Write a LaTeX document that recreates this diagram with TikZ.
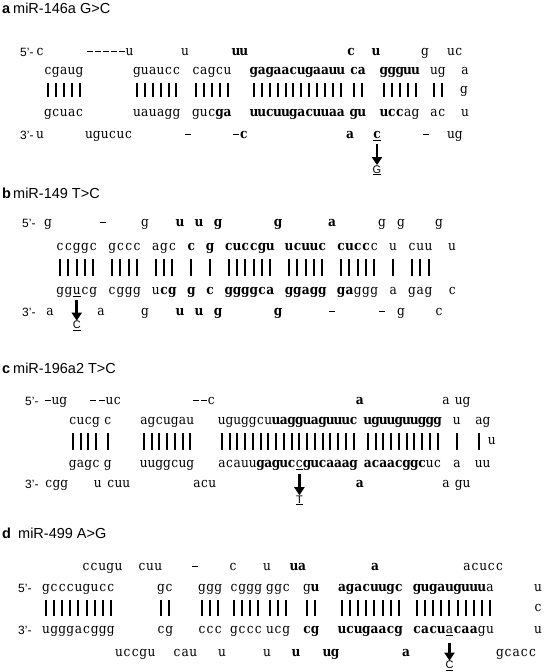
\documentclass[tikz,border=0pt]{standalone}
\usepackage{fontspec}
\setmainfont{Liberation Sans}
\newfontfamily\seqf[FakeStretch=0.9]{DejaVu Serif}
\usetikzlibrary{arrows.meta}
\newdimen\pp
\def\P{8}
\newcommand\setp[1]{\gdef\P{#1}\global\pp=#1pt\relax}
\def\sq#1{\sqA#1\relax}
\def\sqA#1{\ifx\relax#1\else\makebox[\pp][c]{\sqch#1}\expandafter\sqA\fi}
\def\sqch#1{\if-#1\rule[3.3pt]{6pt}{0.9pt}\else#1\fi}
\newcommand\uln[1]{\makebox[\pp][c]{\underline{#1}}}
\newcount\wc
\newcommand\w[3]{\global\advance\wc by 1\relax\node[sq] (w\the\wc) at (#1,#2) {#3};}
\newcommand\bars[2]{\foreach \i in {1,...,#2}{\pgfmathsetmacro\bx{round(#1+(\i-0.5)*\P)}\draw[bar] (\bx,\BT) -- (\bx,\BB);}}
\tikzset{
  sq/.style={anchor=base west, inner sep=0pt, outer sep=0pt, font=\seqf\fontsize{13.5}{16}\selectfont},
  bar/.style={line width=1.3pt},
  lab/.style={anchor=base west, inner sep=0pt, font=\fontsize{14.5}{17}\selectfont},
  endl/.style={anchor=base west, inner sep=0pt, font=\fontsize{12}{14}\selectfont},
  mut/.style={anchor=base, inner sep=0pt, font=\fontsize{11}{13}\selectfont},
  marr/.style={line width=2.6pt, -{Triangle[width=10pt,length=8pt]}}
}
\begin{document}
\begin{tikzpicture}[x=1pt,y=-1pt]
\fill[white] (0,0) rectangle (546,672);
\useasboundingbox (0,0) rectangle (546,672);
% ---------------- panel a ----------------
\node[lab] (la) at (2,13) {\textbf{a}};
\node[lab] (ta) at (13,13) {miR-146a G>C};
\node[endl] (a5) at (20,56.3) {5'-};
\node[endl] (a3) at (20,139.3) {3'-};
\setp{7.9}
\def\BT{83}\def\BB{97}
% row 1
\w{36}{55}{\sq{c}}
\w{86}{55}{\sq{-----u}}
\w{181}{55}{\sq{u}}
\w{232}{55}{\textbf{\sq{uu}}}
\w{347}{55}{\textbf{\sq{c}}}
\w{372}{55}{\textbf{\sq{u}}}
\w{421}{55}{\sq{g}}
\w{447}{55}{\sq{uc}}
% row 2
\w{44}{74.5}{\sq{cgaug}}
\w{133}{74.5}{\sq{guaucc}}
\w{192}{74.5}{\sq{cagcu}}
\w{250}{74.5}{\textbf{\sq{gagaacugaauu}}}
\w{350}{74.5}{\textbf{\sq{ca}}}
\w{380}{74.5}{\textbf{\sq{ggguu}}}
\w{430}{74.5}{\sq{ug}}
\w{461}{74.5}{\sq{a}}
% bars
\bars{44}{5}\bars{133}{6}\bars{192}{5}\bars{250}{12}\bars{350}{2}\bars{380}{5}\bars{430}{2}
\w{460}{93.5}{\sq{g}}
% row 4
\w{44}{116.5}{\sq{gcuac}}
\w{133}{116.5}{\sq{uauagg}}
\w{192}{116.5}{\sq{guc}\textbf{\sq{ga}}}
\w{250}{116.5}{\textbf{\sq{uucuugacuuaa}}}
\w{350}{116.5}{\textbf{\sq{gu}}}
\w{380}{116.5}{\textbf{\sq{ucc}}\sq{ag}}
\w{430}{116.5}{\sq{ac}}
\w{461}{116.5}{\sq{u}}
% row 5
\w{36}{138.5}{\sq{u}}
\w{85}{138.5}{\sq{ugucuc}}
\w{184}{138.5}{\sq{-}}
\w{232}{138.5}{\sq{-}\textbf{\sq{c}}}
\w{346}{138.5}{\textbf{\sq{a}}}
\w{373}{138.5}{\textbf{\uln{c}}}
\w{422}{138.5}{\sq{-}}
\w{447}{138.5}{\sq{ug}}
\coordinate (aa1) at (377,144);
\node[mut] (ma) at (377,173) {\underline{G}};
\draw[marr] (aa1) -- (ma.north);
% ---------------- panel b ----------------
\node[lab] (lb) at (2,198) {\textbf{b}};
\node[lab] (tb) at (13,198) {miR-149 T>C};
\node[endl] (b5) at (22,227.3) {5'-};
\node[endl] (b3) at (22,316.3) {3'-};
\setp{8.3}
\def\BT{259}\def\BB{276}
% row 1 (centres)
\w{43.85}{226.5}{\sq{g}}
\w{98.85}{226.5}{\sq{-}}
\w{140.85}{226.5}{\sq{g}}
\w{175.85}{226.5}{\textbf{\sq{u}}}
\w{194.85}{226.5}{\textbf{\sq{u}}}
\w{213.85}{226.5}{\textbf{\sq{g}}}
\w{273.85}{226.5}{\textbf{\sq{g}}}
\w{327.85}{226.5}{\textbf{\sq{a}}}
\w{377.85}{226.5}{\sq{g}}
\w{396.85}{226.5}{\sq{g}}
\w{434.85}{226.5}{\sq{g}}
% row 2
\w{56}{250.5}{\sq{ccggc}}
\w{108}{250.5}{\sq{gccc}}
\w{151.7}{250.5}{\sq{agc}}
\w{187.1}{250.5}{\textbf{\sq{c}}}
\w{205.9}{250.5}{\textbf{\sq{g}}}
\w{224.7}{250.5}{\textbf{\sq{cuccgu}}}
\w{285}{250.5}{\textbf{\sq{ucuuc}}}
\w{337}{250.5}{\textbf{\sq{cucc}}\sq{c}}
\w{389}{250.5}{\sq{u}}
\w{407.8}{250.5}{\sq{cuu}}
\w{448}{250.5}{\sq{u}}
% bars
\bars{56}{5}\bars{108}{4}\bars{151.7}{3}\bars{187.1}{1}\bars{205.9}{1}\bars{224.7}{6}\bars{285}{5}\bars{337}{5}\bars{389}{1}\bars{407.8}{3}
% row 4
\w{56}{294.5}{\sq{gg}\uln{u}\sq{cg}}
\w{108}{294.5}{\sq{cggg}}
\w{151.7}{294.5}{\sq{u}\textbf{\sq{cg}}}
\w{187.1}{294.5}{\textbf{\sq{g}}}
\w{205.9}{294.5}{\textbf{\sq{c}}}
\w{224.7}{294.5}{\textbf{\sq{ggggca}}}
\w{285}{294.5}{\textbf{\sq{ggagg}}}
\w{337}{294.5}{\textbf{\sq{ga}}\sq{ggg}}
\w{389}{294.5}{\sq{a}}
\w{407.8}{294.5}{\sq{gag}}
\w{448}{294.5}{\sq{c}}
% row 5
\w{45.85}{315.5}{\sq{a}}
\w{96.85}{315.5}{\sq{a}}
\w{140.85}{315.5}{\sq{g}}
\w{175.85}{315.5}{\textbf{\sq{u}}}
\w{194.85}{315.5}{\textbf{\sq{u}}}
\w{213.85}{315.5}{\textbf{\sq{g}}}
\w{273.85}{315.5}{\textbf{\sq{g}}}
\w{327.85}{315.5}{\sq{-}}
\w{377.85}{315.5}{\sq{-}}
\w{396.85}{315.5}{\sq{g}}
\w{434.85}{315.5}{\sq{c}}
\coordinate (ba1) at (76.75,300);
\node[mut] (mb) at (76.75,328.5) {\underline{C}};
\draw[marr] (ba1) -- (mb.north);
% ---------------- panel c ----------------
\node[lab] (lc) at (2,373) {\textbf{c}};
\node[lab] (tc) at (13,373) {miR-196a2 T>C};
\node[endl] (c5) at (25,405.3) {5'-};
\node[endl] (c3) at (25,488.3) {3'-};
\setp{7.75}
\def\BT{433}\def\BB{450}
% row 1
\w{44}{404.5}{\sq{-ug}}
\w{89}{404.5}{\sq{-}}
\w{98}{404.5}{\sq{-uc}}
\w{192}{404.5}{\sq{--c}}
\w{356}{404.5}{\textbf{\sq{a}}}
\w{442}{404.5}{\sq{a}}
\w{455}{404.5}{\sq{ug}}
% row 2
\w{69}{424.5}{\sq{cucg}}
\w{104}{424.5}{\sq{c}}
\w{140}{424.5}{\sq{agcugau}}
\w{218}{424.5}{\sq{uguggcu}\textbf{\sq{uagguaguuuc}}}
\w{364}{424.5}{\textbf{\sq{uguuguuggg}}}
\w{453}{424.5}{\sq{u}}
\w{475}{424.5}{\sq{ag}}
% bars
\bars{69}{4}\bars{104}{1}\bars{140}{7}\bars{218}{18}\bars{364}{10}\bars{453}{1}\bars{475}{1}
\w{488}{444.5}{\sq{u}}
% row 4
\w{69}{467.5}{\sq{gagc}}
\w{104}{467.5}{\sq{g}}
\w{140}{467.5}{\sq{uuggcug}}
\w{218}{467.5}{\sq{acauu}\textbf{\sq{gaguc}}\uln{c}\textbf{\sq{gucaaag}}}
\w{364}{467.5}{\textbf{\sq{acaacggc}}\sq{uc}}
\w{453}{467.5}{\sq{a}}
\w{475}{467.5}{\sq{uu}}
% row 5
\w{45}{487.5}{\sq{cgg}}
\w{94}{487.5}{\sq{u}}
\w{107}{487.5}{\sq{cuu}}
\w{193}{487.5}{\sq{acu}}
\w{356}{487.5}{\textbf{\sq{a}}}
\w{442}{487.5}{\sq{a}}
\w{455}{487.5}{\sq{gu}}
\coordinate (ca1) at (299.4,474);
\node[mut] (mc) at (299.4,503) {\underline{T}};
\draw[marr] (ca1) -- (mc.north);
% ---------------- panel d ----------------
\node[lab] (ld) at (2,538) {\textbf{d}};
\node[lab] (td) at (18,538) {miR-499 A>G};
\node[endl] (d5) at (18,592.3) {5'-};
\node[endl] (d3) at (18,634.3) {3'-};
\setp{8.1}
\def\BT{600}\def\BB{616}
% row 1
\w{82}{570.5}{\sq{ccugu}}
\w{138}{570.5}{\sq{cuu}}
\w{191}{570.5}{\sq{-}}
\w{229}{570.5}{\sq{c}}
\w{263}{570.5}{\sq{u}}
\w{290}{570.5}{\textbf{\sq{ua}}}
\w{371}{570.5}{\textbf{\sq{a}}}
\w{463}{570.5}{\sq{acucc}}
% row 2
\w{42}{591.5}{\sq{gcccugucc}}
\w{157}{591.5}{\sq{gc}}
\w{198}{591.5}{\sq{ggg}}
\w{230}{591.5}{\sq{cggg}}
\w{266}{591.5}{\sq{ggc}}
\w{303}{591.5}{\sq{g}\textbf{\sq{u}}}
\w{338}{591.5}{\textbf{\sq{agacuugc}}}
\w{413}{591.5}{\textbf{\sq{gugauguuu}}\sq{a}}
\w{534}{591.5}{\sq{u}}
% bars
\bars{42}{9}\bars{157}{2}\bars{198}{3}\bars{230}{4}\bars{266}{3}\bars{303}{2}\bars{338}{8}\bars{413}{10}
\w{534}{611.5}{\sq{c}}
% row 4
\w{42}{633.5}{\sq{ugggacggg}}
\w{157}{633.5}{\sq{cg}}
\w{198}{633.5}{\sq{ccc}}
\w{230}{633.5}{\sq{gccc}}
\w{266}{633.5}{\sq{ucg}}
\w{303}{633.5}{\textbf{\sq{cg}}}
\w{338}{633.5}{\textbf{\sq{ucugaacg}}}
\w{413}{633.5}{\textbf{\sq{cacu}}\uln{a}\textbf{\sq{caa}}\sq{gu}}
\w{534}{633.5}{\sq{u}}
% row 5
\w{115}{656.5}{\sq{uccgu}}
\w{173}{656.5}{\sq{cau}}
\w{218}{656.5}{\sq{u}}
\w{263}{656.5}{\sq{u}}
\w{292}{656.5}{\textbf{\sq{u}}}
\w{323}{656.5}{\textbf{\sq{ug}}}
\w{402}{656.5}{\textbf{\sq{a}}}
\w{496}{656.5}{\sq{gcacc}}
\coordinate (da1) at (449.5,643);
\node[mut] (md) at (449.5,668.5) {\underline{C}};
\draw[marr] (da1) -- (md.north);
\end{tikzpicture}
\end{document}
